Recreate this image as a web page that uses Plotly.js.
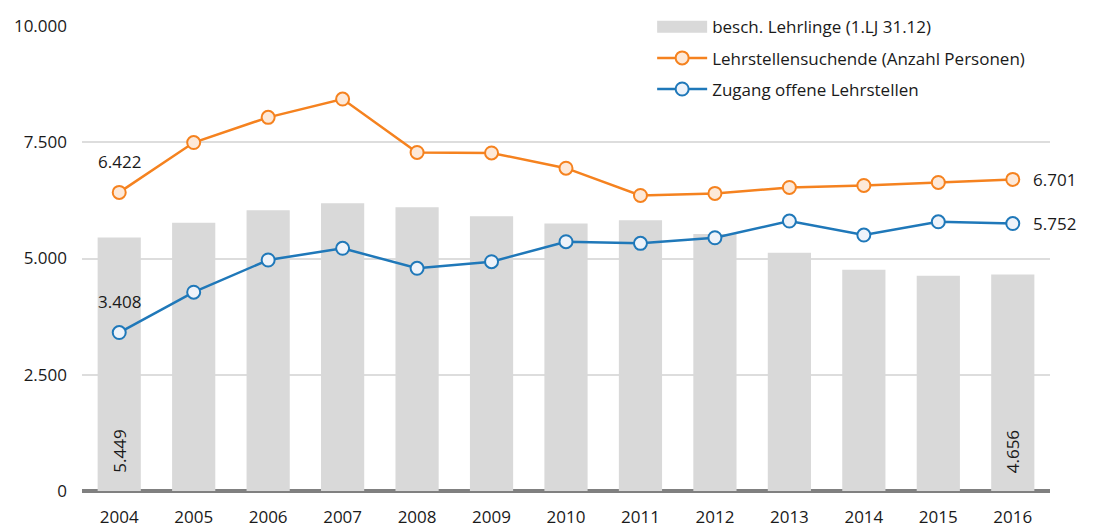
<!DOCTYPE html>
<html>
<head>
<meta charset="utf-8">
<script src="https://cdn.plot.ly/plotly-3.0.1.min.js"></script>
<style>html,body{margin:0;padding:0;background:#fff;}#chart{width:1117px;height:528px;}</style>
</head>
<body>
<div id="chart"></div>
<script>
const years = [2004, 2005, 2006, 2007, 2008, 2009, 2010, 2011, 2012, 2013, 2014, 2015, 2016];
const lehrlinge = [5449, 5770, 6040, 6190, 6100, 5910, 5755, 5825, 5525, 5125, 4760, 4630, 4656];
const suchende = [6422, 7494, 8036, 8429, 7280, 7270, 6942, 6356, 6400, 6528, 6571, 6635, 6701];
const zugang = [3408, 4275, 4968, 5219, 4790, 4931, 5361, 5326, 5446, 5805, 5504, 5790, 5752];
const seriesNames = ['besch. Lehrlinge (1.LJ 31.12)', 'Lehrstellensuchende (Anzahl Personen)', 'Zugang offene Lehrstellen'];
const yTicks = [0, 2500, 5000, 7500, 10000];
const yTickText = ['0', '2.500', '5.000', '7.500', '10.000'];

const fmt = v => v.toLocaleString('de-DE');
const FONT = 'Open Sans, Noto Sans, sans-serif';
const FS = 17;
const last = years.length - 1;

const traces = [
  {
    type: 'bar', x: years, y: lehrlinge, name: seriesNames[0], legendgroup: 'a',
    marker: {color: '#D9D9D9'}, width: 0.58
  },
  {
    type: 'scatter', mode: 'lines+markers', x: years, y: suchende, name: seriesNames[1], legendgroup: 'b',
    line: {color: '#F5821F', width: 2.5},
    marker: {symbol: 'circle', size: 13, color: '#FDE9D9', line: {color: '#F5821F', width: 2}}
  },
  {
    type: 'scatter', mode: 'lines+markers', x: years, y: zugang, name: seriesNames[2], legendgroup: 'c',
    line: {color: '#1F78B9', width: 2.5},
    marker: {symbol: 'circle', size: 13, color: '#EEF3FA', line: {color: '#1F78B9', width: 2}}
  }
];

const annFont = {family: FONT, size: FS, color: '#1a1a1a'};
const annotations = [
  {x: years[0], y: suchende[0], text: fmt(suchende[0]), showarrow: false, yshift: 31, font: annFont},
  {x: years[0], y: zugang[0], text: fmt(zugang[0]), showarrow: false, yshift: 31, font: annFont},
  {x: years[last], y: suchende[last], text: fmt(suchende[last]), showarrow: false, xanchor: 'left', xshift: 18, font: annFont},
  {x: years[last], y: zugang[last], text: fmt(zugang[last]), showarrow: false, xanchor: 'left', xshift: 18, font: annFont},
  {x: years[0], y: 0, text: fmt(lehrlinge[0]), showarrow: false, textangle: -90, yanchor: 'bottom', yshift: 16, font: annFont},
  {x: years[last], y: 0, text: fmt(lehrlinge[last]), showarrow: false, textangle: -90, yanchor: 'bottom', yshift: 16, font: annFont}
];

const layout = {
  width: 1117, height: 528,
  margin: {l: 82, r: 67, t: 26, b: 37, autoexpand: false},
  paper_bgcolor: '#fff', plot_bgcolor: '#fff',
  font: {family: FONT, size: FS, color: '#1a1a1a'},
  showlegend: true,
  legend: {
    x: 0.589, y: 1.036, xanchor: 'left', yanchor: 'top',
    bgcolor: 'rgba(0,0,0,0)', font: {family: FONT, size: FS, color: '#1a1a1a'},
    traceorder: 'grouped', tracegroupgap: 6, itemwidth: 50
  },
  xaxis: {
    range: [2003.5, 2016.5], tickmode: 'array', tickvals: years, ticktext: years.map(String),
    showgrid: false, zeroline: false, showline: false, ticks: '', ticklabelstandoff: 14,
    tickfont: {family: FONT, size: FS, color: '#1a1a1a'}
  },
  yaxis: {
    range: [0, 10000], tickmode: 'array', tickvals: yTicks, ticktext: yTickText,
    showgrid: true, gridcolor: '#DDDDDD', gridwidth: 2,
    zeroline: true, zerolinecolor: '#808080', zerolinewidth: 4,
    showline: false, ticks: '', ticklabelstandoff: 14,
    tickfont: {family: FONT, size: FS, color: '#1a1a1a'}
  },
  annotations: annotations
};

Plotly.newPlot('chart', traces, layout, {displayModeBar: false, staticPlot: true}).then(gd => {
  // widen the bar legend swatch to match the line swatches (Excel-style legend)
  try {
    const items = gd.querySelectorAll('.legend .traces');
    const barPath = items[0].querySelector('.legendpoints path');
    const linePath = items[1].querySelector('.legendlines path');
    if (barPath && linePath) {
      const r = linePath.getBoundingClientRect();
      const m = barPath.getScreenCTM().inverse();
      const pt = gd.querySelector('svg').createSVGPoint();
      pt.x = r.left; pt.y = 0;
      const p1 = pt.matrixTransform(m);
      pt.x = r.right;
      const p2 = pt.matrixTransform(m);
      barPath.setAttribute('d', 'M' + p1.x + ',-6H' + p2.x + 'V6H' + p1.x + 'Z');
      barPath.style.strokeWidth = '0px';
    }
  } catch (e) {}
});
</script>
</body>
</html>
